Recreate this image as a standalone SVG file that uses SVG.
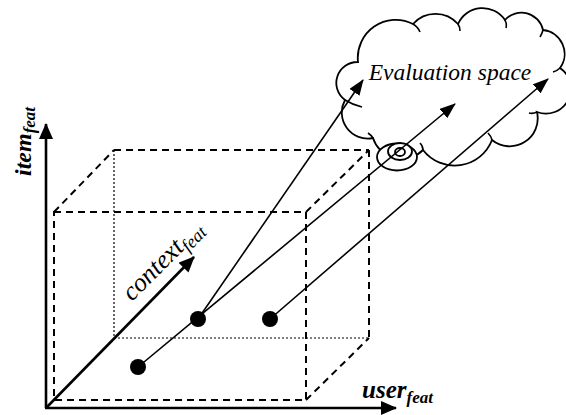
<svg xmlns="http://www.w3.org/2000/svg" width="566" height="415" viewBox="0 0 566 415">
<style>
.dash{fill:none;stroke:#000;stroke-width:2;stroke-dasharray:7 5}
.dot{fill:none;stroke:#000;stroke-width:1.2;stroke-dasharray:2 2}
.axis{fill:none;stroke:#000;stroke-width:2.6}
.conn{fill:none;stroke:#000;stroke-width:1.6}
.cloud{fill:#fff;stroke:#000;stroke-width:1.8}
.lbl{font-family:"Liberation Serif","Times New Roman",serif;font-style:italic;fill:#000}
.b{font-weight:bold}
.pt{fill:#000}
</style>
<defs>
<marker id="ah" markerUnits="userSpaceOnUse" markerWidth="16" markerHeight="12" refX="15" refY="6" orient="auto">
<path d="M0,0 L16,6 L0,12 Z" fill="#000"/>
</marker>
<marker id="ahx" markerUnits="userSpaceOnUse" markerWidth="16" markerHeight="14" refX="15" refY="7" orient="auto">
<path d="M0,0 L16,7 L0,14 Z" fill="#000"/>
</marker>
</defs>
<g id="cube">
<line class="dot" x1="114" y1="150" x2="114" y2="338"/>
<line class="dot" x1="114" y1="338" x2="369" y2="338"/>
<line class="dash" x1="114" y1="150" x2="369" y2="150"/>
<line class="dash" x1="369" y1="150" x2="369" y2="338"/>
<line class="dash" x1="54" y1="212" x2="114" y2="150"/>
<line class="dash" x1="306" y1="212" x2="369" y2="150"/>
<line class="dash" x1="306" y1="400" x2="369" y2="338"/>
<rect class="dash" x="54" y="212" width="252" height="188"/>
</g>
<g id="cloud">
<path class="cloud" d="M345,100 A21,21 0 0 1 358,62 A38,38 0 0 1 413,24 A30,30 0 0 1 458,24 A27,27 0 0 1 505,20 A22,22 0 0 1 543,30 A24,24 0 0 1 560,68 A25,25 0 0 1 537,112 A28,28 0 0 1 492,140 A40,40 0 0 1 423,150 A30,30 0 0 1 373,138 A26,26 0 0 1 345,100 Z"/>
<path fill="none" stroke="#000" stroke-width="1.6" d="M413,24 q5,3 7,8 M458,24 q2,3 2,7 M505,20 q2,4 1,8 M543,30 q-1,4 -3,7 M560,68 q-3,3 -7,4 M537,112 q-4,2 -8,1 M492,140 q-1,-4 -4,-7 M423,150 q0,-4 -3,-7 M373,138 q-2,-3 -5,-5 M345,100 q8,5 17,7"/>
<ellipse class="cloud" cx="397" cy="157" rx="20" ry="13.5"/>
<ellipse class="cloud" cx="400" cy="151.5" rx="12" ry="8.5"/>
<ellipse class="cloud" cx="400" cy="152" rx="5" ry="4"/>
<text class="lbl" x="450" y="80" font-size="23.5" text-anchor="middle">Evaluation space</text>
</g>
<g id="axes">
<line class="axis" x1="46" y1="408" x2="46" y2="124" marker-end="url(#ahx)"/>
<line class="axis" x1="45" y1="408" x2="396" y2="408" marker-end="url(#ahx)"/>
<line class="axis" x1="46" y1="408" x2="194" y2="257" marker-end="url(#ahx)"/>
</g>
<g id="labels">
<text class="lbl b" transform="translate(31,176) rotate(-90)" font-size="24">item<tspan font-size="17" dy="4">feat</tspan></text>
<text class="lbl b" x="362" y="398" font-size="25">user<tspan font-size="17" dy="5">feat</tspan></text>
<text class="lbl" transform="translate(132,302) rotate(-45)" font-size="26">context<tspan font-size="18" dy="5">feat</tspan></text>
</g>
<g id="connectors">
<line class="conn" x1="138" y1="367" x2="455" y2="104" marker-end="url(#ah)"/>
<line class="conn" x1="198" y1="319" x2="363" y2="80" marker-end="url(#ah)"/>
<line class="conn" x1="270" y1="319" x2="548" y2="79" marker-end="url(#ah)"/>
</g>
<g id="points">
<circle id="p1" class="pt" cx="198" cy="319" r="8"/>
<circle id="p2" class="pt" cx="270" cy="319" r="8"/>
<circle id="p3" class="pt" cx="138" cy="367" r="8"/>
</g>
</svg>
